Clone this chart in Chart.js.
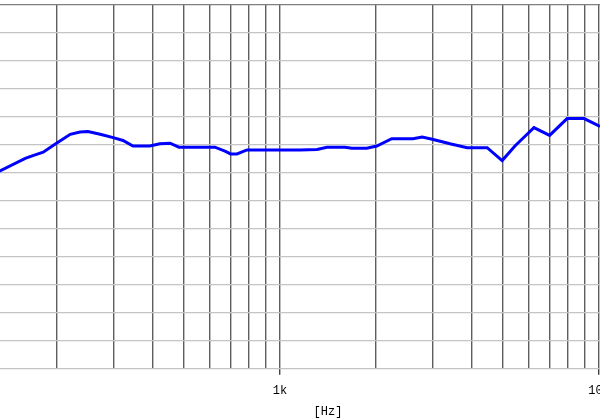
<!DOCTYPE html>
<html>
<head>
<meta charset="utf-8">
<script src="https://cdn.jsdelivr.net/npm/chart.js@4"></script>
<style>
  html, body { margin: 0; padding: 0; background: #fff; }
  #wrap { width: 600px; height: 420px; position: relative; }
</style>
</head>
<body>
<div id="wrap"><canvas id="fr"></canvas></div>
<script>
/* ---------- DATA ---------- */
const freqs = [132, 159, 168, 181, 197, 220, 236, 250, 273, 300, 322, 346, 391, 420, 452, 482,
  625, 672, 700, 733, 788, 1155, 1306, 1404, 1600, 1680, 1870, 2010, 2240, 2610, 2790, 3000,
  3410, 3860, 4460, 4970, 5450, 5950, 6250, 7000, 7940, 8980, 10070];
const levels = [70.3, 72.6, 73.1, 73.7, 75.1, 76.9, 77.3, 77.4, 76.9, 76.3, 75.8, 74.8, 74.8, 75.2, 75.3, 74.6,
  74.6, 73.9, 73.4, 73.4, 74.1, 74.1, 74.2, 74.6, 74.6, 74.4, 74.4, 74.8, 76.1, 76.1, 76.4, 76.0,
  75.2, 74.5, 74.5, 72.2, 74.8, 76.9, 78.1, 76.7, 79.7, 79.7, 78.3];

const gridFreqs = [200, 300, 400, 500, 600, 700, 800, 900, 1000,
  2000, 3000, 4000, 5000, 6000, 7000, 8000, 9000, 10000];
const tickLabels = { 1000: "1k", 10000: "10k" };
const xMin = 132.5, xMax = 10070;
const yMin = 35, yMax = 100, yStep = 5;
const unitLabel = "[Hz]";

/* ---------- UNIT LABEL ---------- */
const unitPlugin = {
  id: "unitLabel",
  afterDraw(chart) {
    const c = chart.ctx;
    c.save();
    c.font = "12px 'Liberation Mono'";
    c.fillStyle = "#000";
    c.textAlign = "center";
    c.textBaseline = "middle";
    c.fillText(unitLabel, chart.chartArea.left + 328, 412);
    c.restore();
  }
};

/* ---------- CHART ---------- */
new Chart(document.getElementById("fr"), {
  type: "line",
  data: {
    datasets: [{
      data: freqs.map((f, i) => ({ x: f, y: levels[i] })),
      borderColor: "#0000ff",
      borderWidth: 3,
      pointRadius: 0,
      tension: 0,
      fill: false
    }]
  },
  options: {
    responsive: true,
    maintainAspectRatio: false,
    devicePixelRatio: 1,
    animation: false,
    layout: { padding: { top: 5, left: 0, right: 0, bottom: 14 } },
    plugins: { legend: { display: false }, tooltip: { enabled: false } },
    scales: {
      x: {
        type: "logarithmic",
        min: xMin,
        max: xMax,
        afterBuildTicks: s => {
          s.ticks = [xMin, ...gridFreqs, xMax].map(v => ({ value: v }));
        },
        border: { display: false },
        grid: {
          color: c => gridFreqs.includes(c.tick && c.tick.value) ? "#5e5e5e" : "rgba(0,0,0,0)",
          tickColor: c => tickLabels[c.tick && c.tick.value] ? "#404040" : "rgba(0,0,0,0)",
          lineWidth: 1.4,
          tickLength: 6
        },
        ticks: {
          autoSkip: false,
          maxRotation: 0,
          padding: 0,
          color: "#000",
          font: { family: "'Liberation Mono'", size: 12, lineHeight: 2.6 },
          callback: v => tickLabels[v] || ""
        }
      },
      y: {
        min: yMin,
        max: yMax,
        border: { display: false },
        grid: {
          color: c => c.tick && c.tick.value === yMax ? "#808080" : "#c4c4c4",
          lineWidth: 1.3,
          drawTicks: false
        },
        ticks: { display: false, stepSize: yStep, padding: 0 }
      }
    }
  },
  plugins: [unitPlugin]
});
</script>
</body>
</html>
